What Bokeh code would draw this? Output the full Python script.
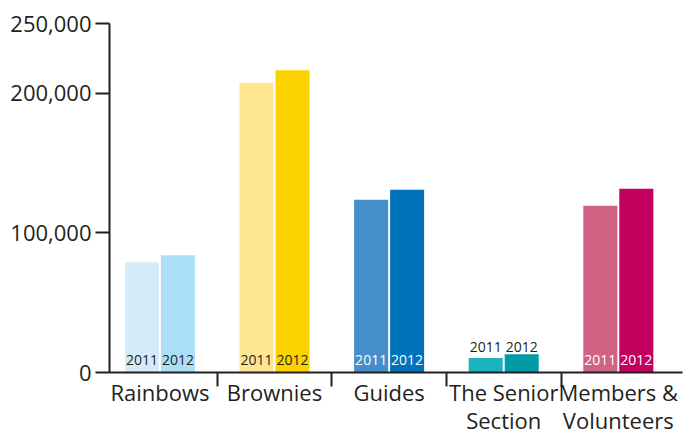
from bokeh.plotting import figure
from bokeh.models import (ColumnDataSource, Range1d, LinearAxis,
                          FixedTicker, NumeralTickFormatter)
from bokeh.core.properties import value
from bokeh.embed import file_html
from bokeh.resources import INLINE

# ---- data ----
categories = ["Rainbows", "Brownies", "Guides", "The Senior\nSection", "Members &\nVolunteers"]
years = ["2011", "2012"]
values_2011 = [79000, 207600, 123800, 10400, 119500]
values_2012 = [84000, 216600, 130900, 13100, 131600]
colors_2011 = ["#d4ecf9", "#fee591", "#448ecb", "#1bb3be", "#d06283"]
colors_2012 = ["#abdff8", "#fcd200", "#0072bb", "#009ba6", "#c4005f"]
year_label_colors = ["#231f20", "#231f20", "#ffffff", "#231f20", "#ffffff"]
y_ticks = [0, 100000, 200000, 250000]
y_max = 250000
inside_threshold = 30000

FONT = "Open Sans"
INK = "#231f20"

n = len(categories)
centers = [i + 0.5 for i in range(n)]
boundaries = list(range(1, n))
bar_w = 0.297
off = 0.157
x_shift = 0.06

p = figure(x_range=Range1d(x_shift, n + x_shift), y_range=Range1d(0, y_max),
           width=689, height=438, output_backend="svg", toolbar_location=None,
           x_axis_location=None, min_border_left=109, min_border_top=23,
           min_border_right=7, min_border_bottom=65)
p.outline_line_color = None
p.grid.visible = False
p.background_fill_color = "white"

src = ColumnDataSource(dict(x1=[c - off for c in centers], x2=[c + off for c in centers],
                            v2011=values_2011, v2012=values_2012,
                            c2011=colors_2011, c2012=colors_2012))

p.vbar(x="x1", top="v2011", width=bar_w, source=src, fill_color="c2011", line_color=None)
p.vbar(x="x2", top="v2012", width=bar_w, source=src, fill_color="c2012", line_color=None)

# year labels
for yr, vals, o in [("2011", values_2011, -off), ("2012", values_2012, off)]:
    ys, yoffs, cols = [], [], []
    for i, v in enumerate(vals):
        if v > inside_threshold:
            ys.append(0)
            yoffs.append(-13)
            cols.append(year_label_colors[i])
        else:
            ys.append(max(values_2011[i], values_2012[i]))
            yoffs.append(-7)
            cols.append(INK)
    lsrc = ColumnDataSource(dict(x=[c + o for c in centers], y=ys, yo=yoffs, c=cols,
                                 t=[yr] * n))
    p.text(x="x", y="y", text="t", source=lsrc,
           text_color="c", y_offset="yo", text_align="center", text_baseline="alphabetic",
           text_font=value(FONT), text_font_size="14px")

# y axis
ya = p.yaxis[0]
ya.ticker = FixedTicker(ticks=y_ticks)
ya.formatter = NumeralTickFormatter(format="0,0")
ya.axis_line_width = 2
ya.axis_line_color = INK
ya.major_tick_line_width = 2
ya.major_tick_line_color = INK
ya.major_tick_out = 14
ya.major_tick_in = 0
ya.minor_tick_line_color = None
ya.major_label_standoff = 4
ya.major_label_text_font = FONT
ya.major_label_text_font_size = "22px"
ya.major_label_text_color = INK

# x axis: labels at category centres, separator ticks (minor) between categories
xa = LinearAxis(ticker=FixedTicker(ticks=centers, minor_ticks=boundaries),
                major_label_overrides={c: name for c, name in zip(centers, categories)})
xa.axis_line_width = 2
xa.axis_line_color = INK
xa.major_tick_line_color = None
xa.major_tick_out = 14
xa.major_tick_in = 0
xa.minor_tick_line_color = INK
xa.minor_tick_line_width = 2
xa.minor_tick_out = 14
xa.minor_tick_in = 0
xa.major_label_standoff = -10
xa.major_label_text_font = FONT
xa.major_label_text_font_size = "22px"
xa.major_label_text_color = INK
xa.major_label_text_line_height = 0.95
p.add_layout(xa, "below")

open("out.html", "w").write(file_html(p, INLINE))
